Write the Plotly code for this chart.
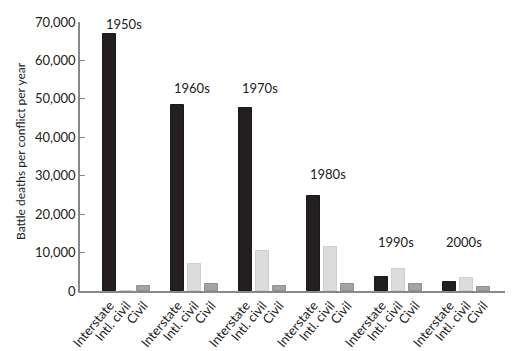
import plotly.graph_objects as go

decades = ["1950s", "1960s", "1970s", "1980s", "1990s", "2000s"]
types = ["Interstate", "Intl. civil", "Civil"]
interstate = [66900, 48300, 47500, 24700, 3700, 2300]
intl_civil = [0, 7000, 10500, 11500, 5800, 3500]
civil = [1300, 1700, 1400, 1900, 1700, 1000]
label_y = [69500, 52800, 52800, 30500, 12700, 12700]

series = [interstate, intl_civil, civil]
fills = ["#231f20", "#dcdcdc", "#a3a3a3"]
lines = ["#1a1a1a", "#cfcfcf", "#909090"]

fig = go.Figure()
for j, (vals, fc, lc) in enumerate(zip(series, fills, lines)):
    xs = [i * 4 + j for i in range(len(decades))]
    fig.add_trace(go.Bar(x=xs, y=vals, width=0.76, marker=dict(color=fc, line=dict(color=lc, width=1)),
                         name=types[j], showlegend=False))

tickvals, ticktext = [], []
for i in range(len(decades)):
    for j, t in enumerate(types):
        tickvals.append(i * 4 + j)
        ticktext.append(t)

for i, d in enumerate(decades):
    fig.add_annotation(x=i * 4 + 0.85, y=label_y[i], text=d, showarrow=False,
                       xanchor="center", yanchor="middle",
                       font=dict(size=13, color="#222"))

fig.add_annotation(xref="paper", yref="paper", x=(20 - 80) / 425, y=(291 - 151) / 269,
                   text="Battle deaths per conflict per year", showarrow=False, textangle=-90,
                   xanchor="center", yanchor="middle", font=dict(size=12, color="#222"))

fig.update_layout(
    width=520, height=351,
    margin=dict(l=80, r=15, t=22, b=60, autoexpand=False),
    plot_bgcolor="white", paper_bgcolor="white",
    font=dict(family="Lato, Open Sans, sans-serif", size=12, color="#222"),
    bargap=0,
)
fig.update_xaxes(range=[-1.74, 23.26], tickvals=tickvals, ticktext=ticktext, tickangle=-50,
                 showline=True, linecolor="#888", linewidth=1.5, ticks="", showgrid=False,
                 zeroline=False, automargin=False, tickfont=dict(size=13, color="#222"))
fig.update_yaxes(range=[0, 70000], tickvals=[0, 10000, 20000, 30000, 40000, 50000, 60000, 70000],
                 tickformat=",d", showline=True, linecolor="#888", linewidth=1.5,
                 ticks="inside", ticklen=5, tickcolor="#888", showgrid=False, zeroline=False,
                 automargin=False, tickfont=dict(size=13, color="#222"))

fig.write_html("out.html")
